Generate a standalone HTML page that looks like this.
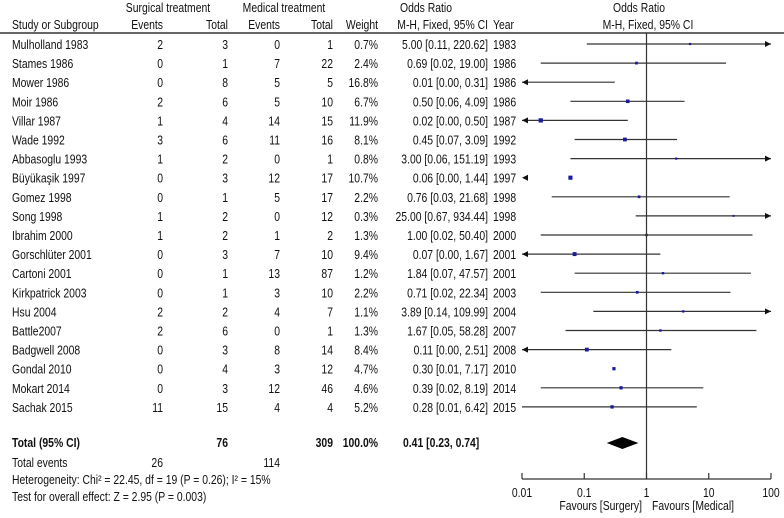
<!DOCTYPE html>
<html><head><meta charset="utf-8"><style>
html,body{margin:0;padding:0;background:#fff;}
svg{display:block;font-family:"Liberation Sans Narrow","Liberation Sans",sans-serif;font-size:13px;fill:#111;}
</style></head><body>
<svg id="fp" width="784" height="518" viewBox="0 0 784 518">
<g>
<text x="168" y="12" text-anchor="middle">Surgical treatment</text>
<text x="284" y="12" text-anchor="middle">Medical treatment</text>
<text x="426" y="12" text-anchor="middle">Odds Ratio</text>
<text x="639" y="12" text-anchor="middle">Odds Ratio</text>
<text x="12" y="29">Study or Subgroup</text>
<text x="163" y="29" text-anchor="end">Events</text>
<text x="228" y="29" text-anchor="end">Total</text>
<text x="280" y="29" text-anchor="end">Events</text>
<text x="333" y="29" text-anchor="end">Total</text>
<text x="378" y="29" text-anchor="end">Weight</text>
<text x="488" y="29" text-anchor="end">M-H, Fixed, 95% CI</text>
<text x="493" y="29">Year</text>
<text x="648" y="29" text-anchor="middle">M-H, Fixed, 95% CI</text>
<line x1="0" y1="33" x2="784" y2="33" stroke="#666" stroke-width="2"/>
</g>
<g id="rows"></g>
<g id="plot"></g>
<g>
<text x="12" y="447" font-weight="bold">Total (95% CI)</text>
<text x="228" y="447" text-anchor="end" font-weight="bold">76</text>
<text x="333" y="447" text-anchor="end" font-weight="bold">309</text>
<text x="378" y="447" text-anchor="end" font-weight="bold">100.0%</text>
<text x="403" y="447" font-weight="bold">0.41 [0.23, 0.74]</text>
<text x="12" y="467">Total events</text>
<text x="163" y="467" text-anchor="end">26</text>
<text x="280" y="467" text-anchor="end">114</text>
<text x="12" y="484">Heterogeneity: Chi² = 22.45, df = 19 (P = 0.26); I² = 15%</text>
<text x="12" y="501">Test for overall effect: Z = 2.95 (P = 0.003)</text>
</g>
</svg>
<script>
const studies=["Mulholland 1983","Stames 1986","Mower 1986","Moir 1986","Villar 1987","Wade 1992","Abbasoglu 1993","Büyükaşik 1997","Gomez 1998","Song 1998","Ibrahim 2000","Gorschlüter 2001","Cartoni 2001","Kirkpatrick 2003","Hsu 2004","Battle2007","Badgwell 2008","Gondal 2010","Mokart 2014","Sachak 2015"];
const surgEvents=[2,0,0,2,1,3,1,0,0,1,1,0,0,0,2,2,0,0,0,11];
const surgTotal=[3,1,8,6,4,6,2,3,1,2,2,3,1,1,2,6,3,4,3,15];
const medEvents=[0,7,5,5,14,11,0,12,5,0,1,7,13,3,4,0,8,3,12,4];
const medTotal=[1,22,5,10,15,16,1,17,17,12,2,10,87,10,7,1,14,12,46,4];
const weights=[0.7,2.4,16.8,6.7,11.9,8.1,0.8,10.7,2.2,0.3,1.3,9.4,1.2,2.2,1.1,1.3,8.4,4.7,4.6,5.2];
const orVal=[5.00,0.69,0.01,0.50,0.02,0.45,3.00,0.06,0.76,25.00,1.00,0.07,1.84,0.71,3.89,1.67,0.11,0.30,0.39,0.28];
const ciLow=[0.11,0.02,0.00,0.06,0.00,0.07,0.06,0.00,0.03,0.67,0.02,0.00,0.07,0.02,0.14,0.05,0.00,0.01,0.02,0.01];
const ciHigh=[220.62,19.00,0.31,4.09,0.50,3.09,151.19,1.44,21.68,934.44,50.40,1.67,47.57,22.34,109.99,58.28,2.51,7.17,8.19,6.42];
const showLine=[1,1,1,1,1,1,1,0,1,1,1,1,1,1,1,1,1,0,1,1];
const years=[1983,1986,1986,1986,1987,1992,1993,1997,1998,1998,2000,2001,2001,2003,2004,2007,2008,2010,2014,2015];
const totalOR=[0.41,0.23,0.74];
const tickVals=[0.01,0.1,1,10,100];
const tickLabels=["0.01","0.1","1","10","100"];

const NS="http://www.w3.org/2000/svg";
const xMin=522,xMax=771;
function xs(v){const l=Math.log10(Math.max(v,1e-6));return xMin+(l+2)/4*(xMax-xMin);}
function ys(i){return 45+i*19.1;}
function mk(t,a,p){const e=document.createElementNS(NS,t);for(const k in a)e.setAttribute(k,a[k]);if(p)p.appendChild(e);return e;}
function txt(p,x,y,s,anchor){const e=mk('text',{x:x,y:y,'text-anchor':anchor||'start'},p);e.textContent=s;return e;}
const rows=document.getElementById('rows'),plot=document.getElementById('plot');
function f2(v){return v.toFixed(2);}
studies.forEach((s,i)=>{
  const y=ys(i),ty=y+4;
  const g=mk('g',{},rows);
  
  
  txt(g,12,ty,s);
  txt(g,163,ty,String(surgEvents[i]),'end');
  txt(g,228,ty,String(surgTotal[i]),'end');
  txt(g,280,ty,String(medEvents[i]),'end');
  txt(g,333,ty,String(medTotal[i]),'end');
  txt(g,378,ty,weights[i].toFixed(1)+'%','end');
  txt(g,488,ty,f2(orVal[i])+' ['+f2(ciLow[i])+', '+f2(ciHigh[i])+']','end');
  txt(g,493,ty,String(years[i]));
  const pg=mk('g',{},plot);
  
  
  const ly=y-1;
  const lo=Math.max(xs(ciLow[i]),xMin), hi=Math.min(xs(ciHigh[i]),xMax);
  if(showLine[i]) mk('line',{x1:lo,y1:ly,x2:hi,y2:ly,stroke:'#333','stroke-width':1.2},pg);
  if(xs(ciLow[i])<xMin) mk('polygon',{points:`${xMin},${ly} ${xMin+6},${ly-3} ${xMin+6},${ly+3}`,fill:'#111'},pg);
  if(xs(ciHigh[i])>xMax) mk('polygon',{points:`${xMax},${ly} ${xMax-6},${ly-3} ${xMax-6},${ly+3}`,fill:'#111'},pg);
  const cx=xs(orVal[i]);
  if(cx>xMin+2){const sz=1.5+Math.sqrt(weights[i])*0.8;
    const r=mk('rect',{x:cx-sz/2,y:ly-sz/2,width:sz,height:sz,fill:'#1a1aa0'},pg);
    
    }
});
const nl=mk('line',{x1:xs(1),y1:33,x2:xs(1),y2:479,stroke:'#333','stroke-width':1.2},plot);


const dy=443;
const dm=mk('polygon',{points:`${xs(totalOR[1])},${dy} ${xs(totalOR[0])},${dy-6} ${xs(totalOR[2])},${dy} ${xs(totalOR[0])},${dy+6}`,fill:'#000'},plot);


const ax=mk('g',{},plot);


mk('line',{x1:xMin,y1:479,x2:xMax,y2:479,stroke:'#333','stroke-width':1.2},ax);
tickVals.forEach((v,k)=>{const x=xs(v);
  mk('line',{x1:x,y1:473,x2:x,y2:479,stroke:'#333','stroke-width':1.2},ax);
  const t=txt(ax,x,497,tickLabels[k],'middle');
  
  });
const fl=txt(ax,642,510,'Favours [Surgery]','end');


const fr=txt(ax,652,510,'Favours [Medical]','start');


document.querySelectorAll('#fp text').forEach(t=>{
  const x=parseFloat(t.getAttribute('x'));
  t.setAttribute('transform',`translate(${x},0) scale(0.8,1) translate(${-x},0)`);
});
</script>
</body></html>
